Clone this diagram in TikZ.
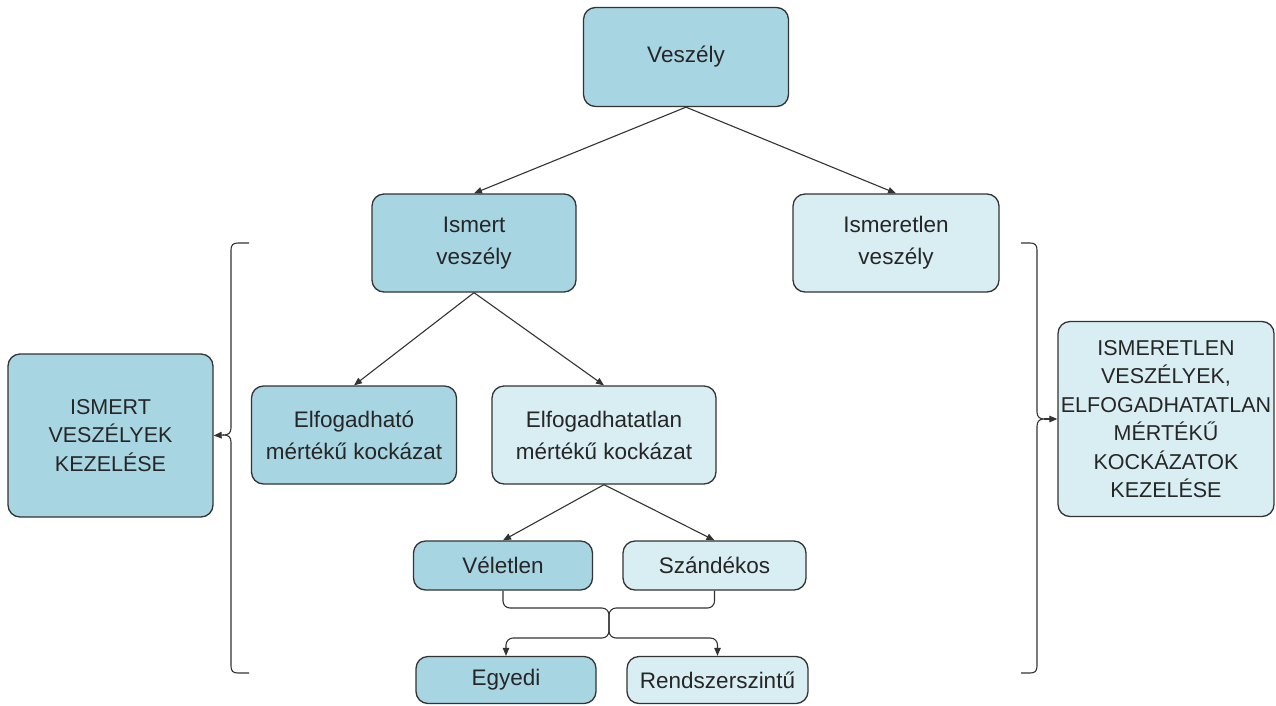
\documentclass[tikz,border=0pt]{standalone}
\usepackage{fontspec}
\setmainfont{Liberation Sans}
\usetikzlibrary{arrows.meta}

\definecolor{darkbox}{HTML}{A8D5E2}
\definecolor{lightbox}{HTML}{D8EEF3}
\definecolor{edgegray}{HTML}{333333}

\begin{document}
\begin{tikzpicture}[x=1pt, y=-1pt,  % one unit is one pixel of the layout, y runs downward
    box/.style={draw=edgegray, line width=1.3pt, rounded corners=12pt, align=center,
        inner sep=0pt, text=black!85, font=\fontsize{22.5}{32}\selectfont},
    darkfill/.style={box, fill=darkbox},
    lightfill/.style={box, fill=lightbox},
    caps/.style={font=\fontsize{21.5}{28.5}\selectfont},
    arr/.style={draw=edgegray, line width=1.1pt, -{Triangle[length=8pt,width=6.5pt]}},
    brace/.style={draw=edgegray, line width=1.1pt}]

    % Fix the page to the size of the layout
    \useasboundingbox (0,0) rectangle (1276,705);

    % Top of the tree
    \node[darkfill, minimum width=205pt, minimum height=99pt] (vesz) at (686,57) {Veszély};

    % Second level: known and unknown hazards
    \node[darkfill, minimum width=204pt, minimum height=98pt] (ism) at (474,243) {Ismert\\veszély};
    \node[lightfill, minimum width=206pt, minimum height=98pt] (isml) at (896,243) {Ismeretlen\\veszély};

    % Third level: acceptable and unacceptable risk
    \node[darkfill, minimum width=205pt, minimum height=98pt] (elf) at (354,435) {Elfogadható\\mértékű kockázat};
    \node[lightfill, minimum width=224pt, minimum height=98pt] (elft) at (604,435) {Elfogadhatatlan\\mértékű kockázat};

    % Side boxes (handling)
    \node[darkfill, caps, minimum width=205pt, minimum height=163pt] (kez) at (110.5,435.5)
        {ISMERT\\VESZÉLYEK\\KEZELÉSE};
    \node[lightfill, caps, minimum width=216pt, minimum height=195pt] (kezl) at (1166,419)
        {ISMERETLEN\\VESZÉLYEK,\\ELFOGADHATATLAN\\MÉRTÉKŰ\\KOCKÁZATOK\\KEZELÉSE};

    % Bottom rows
    \node[darkfill, minimum width=179pt, minimum height=49pt] (vel) at (503,565.5) {Véletlen};
    \node[lightfill, minimum width=183pt, minimum height=49pt] (szan) at (714.5,565.5) {Szándékos};
    \node[darkfill, minimum width=180pt, minimum height=47pt] (egy) at (506,680) {Egyedi};
    \node[lightfill, minimum width=181pt, minimum height=47pt] (rend) at (717.5,680) {Rendszerszintű};

    % Tree arrows
    \draw[arr] (vesz.south) -- (ism.north);
    \draw[arr] (vesz.south) -- (isml.north);
    \draw[arr] (ism.south) -- (elf.north);
    \draw[arr] (ism.south) -- (elft.north);
    \draw[arr] (elft.south) -- (vel.north);
    \draw[arr] (elft.south) -- (szan.north);

    % Merge and split between the two bottom rows
    \coordinate (mtop) at (609,608);  % where the two upper lines meet
    \coordinate (mbot) at (609,638);  % where the lines split again
    \draw[arr, rounded corners=7pt] (vel.south) |- (mtop) -- (mbot) -| (egy.north);
    \draw[arr, rounded corners=7pt] (szan.south) |- (mtop) -- (mbot) -| (rend.north);

    % Left brace
    \coordinate (ltip) at (224,435);
    \draw[brace] (249,243) -- (238,243) .. controls (233,243) and (231,245) .. (231,250)
        -- (231,428) .. controls (231,433) and (228,435) .. (ltip)
        .. controls (228,435) and (231,437) .. (231,442)
        -- (231,666) .. controls (231,671) and (233,673) .. (238,673) -- (249,673);
    \draw[arr] (ltip) -- (kez.east);

    % Right brace
    \coordinate (rtip) at (1044,419);
    \draw[brace] (1021,243) -- (1030,243) .. controls (1035,243) and (1037,245) .. (1037,250)
        -- (1037,412) .. controls (1037,417) and (1040,419) .. (rtip)
        .. controls (1040,419) and (1037,421) .. (1037,426)
        -- (1037,666) .. controls (1037,671) and (1035,673) .. (1030,673) -- (1021,673);
    \draw[arr] (rtip) -- (kezl.west);

\end{tikzpicture}
\end{document}
